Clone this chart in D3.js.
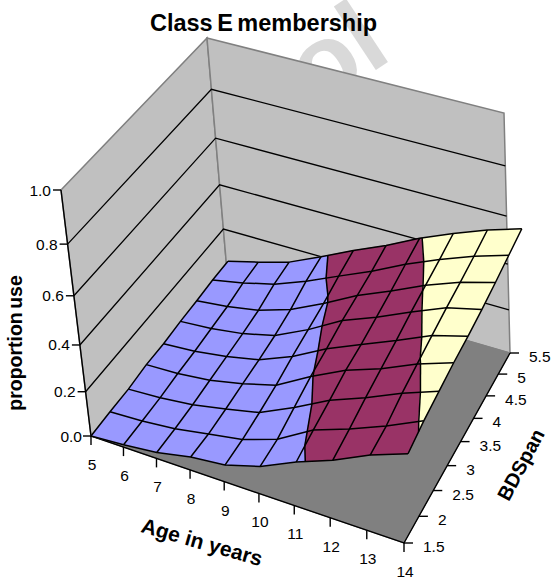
<!DOCTYPE html>
<html>
<head>
<meta charset="utf-8">
<script src="https://cdn.jsdelivr.net/npm/d3@7"></script>
<style>
  html, body { margin: 0; padding: 0; background: #fff; }
  svg { display: block; }
  text { font-family: "Liberation Sans", Arial, sans-serif; fill: #000; }
</style>
</head>
<body>
<svg id="chart" width="555" height="581"></svg>
<script>
// Axis values
const ages = [5, 6, 7, 8, 9, 10, 11, 12, 13, 14];
const spans = [1.5, 2, 2.5, 3, 3.5, 4, 4.5, 5, 5.5];
const spanLabels = ["1.5", "2", "2.5", "3", "3.5", "4", "4.5", "5", "5.5"];
const zTicks = [0, 0.2, 0.4, 0.6, 0.8, 1];
const bandLimits = [0, 0.2, 0.4, 0.6];
const bandColors = ["#9999FF", "#993366", "#FFFFCC"];

// Proportion in class E, one row per BDSpan level, ages 5 to 14
const useSpan15 = [0.000, 0.010, 0.025, 0.055, 0.070, 0.115, 0.185, 0.245, 0.320, 0.380];
const useSpan20 = [0.005, 0.012, 0.025, 0.050, 0.075, 0.125, 0.215, 0.270, 0.335, 0.410];
const useSpan25 = [0.007, 0.015, 0.030, 0.058, 0.090, 0.160, 0.240, 0.300, 0.370, 0.430];
const useSpan30 = [0.020, 0.025, 0.040, 0.070, 0.110, 0.195, 0.270, 0.325, 0.395, 0.450];
const useSpan35 = [0.020, 0.030, 0.050, 0.080, 0.140, 0.220, 0.285, 0.350, 0.420, 0.465];
const useSpan40 = [0.030, 0.040, 0.060, 0.095, 0.165, 0.250, 0.310, 0.380, 0.445, 0.485];
const useSpan45 = [0.035, 0.050, 0.075, 0.120, 0.190, 0.270, 0.335, 0.405, 0.465, 0.510];
const useSpan50 = [0.043, 0.070, 0.105, 0.160, 0.225, 0.290, 0.365, 0.430, 0.490, 0.540];
const useSpan55 = [0.045, 0.080, 0.120, 0.185, 0.255, 0.320, 0.395, 0.460, 0.520, 0.570];
const surfaceRows = [useSpan15, useSpan20, useSpan25, useSpan30, useSpan35, useSpan40, useSpan45, useSpan50, useSpan55];

const svg = d3.select("#chart");

// Camera: floor corners and the corners of the plane at height 1.0
const floorCorners = [[91, 436], [404, 543], [510, 353], [227, 271]];
const ceilingCorners = [[61, 190], [391, 290], [504, 113], [207, 38]];

function solve(A, b) {
  const n = b.length, m = A.map((r, i) => [...r, b[i]]);
  for (let i = 0; i < n; i++) {
    let q = i;
    for (let k = i + 1; k < n; k++) if (Math.abs(m[k][i]) > Math.abs(m[q][i])) q = k;
    [m[i], m[q]] = [m[q], m[i]];
    for (let k = 0; k < n; k++) {
      if (k === i) continue;
      const f = m[k][i] / m[i][i];
      for (let j = i; j <= n; j++) m[k][j] -= f * m[i][j];
    }
  }
  return m.map((r, i) => r[n] / r[i]);
}

// Plane-to-screen homography through four corners
const unitSquare = [[0, 0], [1, 0], [1, 1], [0, 1]];
function planeMap(corners) {
  const rows = [], rhs = [];
  unitSquare.forEach(([u, v], i) => {
    const [x, y] = corners[i];
    rows.push([u, v, 1, 0, 0, 0, -u * x, -v * x]); rhs.push(x);
    rows.push([0, 0, 0, u, v, 1, -u * y, -v * y]); rhs.push(y);
  });
  const h = solve(rows, rhs);
  return (u, v) => {
    const w = h[6] * u + h[7] * v + 1;
    return [(h[0] * u + h[1] * v + h[2]) / w, (h[3] * u + h[4] * v + h[5]) / w];
  };
}
const floorMap = planeMap(floorCorners);
const ceilingMap = planeMap(ceilingCorners);

const ageScale = d3.scaleLinear().domain([5, 14]).range([0, 1]);
const spanScale = d3.scaleLinear().domain([1.5, 5.5]).range([0, 1]);

// Equal height steps grow slightly toward the top of the box
const heightScale = z => z * (1 - 0.125 * (1 - z));

function project(age, span, z) {
  const u = ageScale(age), v = spanScale(span), t = heightScale(z);
  const a = floorMap(u, v), b = ceilingMap(u, v);
  return [a[0] + (b[0] - a[0]) * t, a[1] + (b[1] - a[1]) * t];
}

// The sheet rises from the floor with its own scale and a rightward lean
const sheetHeight = d3.scaleLinear().domain([1.5, 5.5]).range([235, 218]);
const sheetLean = d3.scaleLinear().domain([1.5, 5.5]).range([0.045, 0.095]);
function projectSheet(age, span, z) {
  const [x, y] = project(age, span, 0);
  const up = z * sheetHeight(span);
  return [x + sheetLean(span) * up, y - up];
}

const line = d3.line();
const closed = d3.line().curve(d3.curveLinearClosed);
const minAge = ages[0], maxAge = ages[ages.length - 1];
const minSpan = spans[0], maxSpan = spans[spans.length - 1];

// Faint diagonal stamp behind the plot
svg.append("text")
  .attr("transform", "translate(394,58) rotate(-33.5)")
  .attr("text-anchor", "end")
  .attr("font-size", 105)
  .attr("font-weight", 700)
  .style("fill", "#d9d9d9")
  .text("ol");

// Walls and floor
const wallStroke = "#808080";
const wallFill = "#C0C0C0";
svg.append("path")
  .attr("d", closed([project(minAge, minSpan, 0), project(minAge, minSpan, 1), project(minAge, maxSpan, 1), project(minAge, maxSpan, 0)]))
  .attr("fill", wallFill).attr("stroke", wallStroke).attr("stroke-width", 1.5);
svg.append("path")
  .attr("d", closed([project(minAge, maxSpan, 0), project(minAge, maxSpan, 1), project(maxAge, maxSpan, 1), project(maxAge, maxSpan, 0)]))
  .attr("fill", wallFill).attr("stroke", wallStroke).attr("stroke-width", 1.5);
svg.append("path")
  .attr("d", closed([project(minAge, minSpan, 0), project(maxAge, minSpan, 0), project(maxAge, maxSpan, 0), project(minAge, maxSpan, 0)]))
  .attr("fill", "#808080").attr("stroke", "#808080").attr("stroke-width", 1);

// Horizontal rules on both walls
const rules = svg.append("g").attr("fill", "none").attr("stroke", "#000").attr("stroke-width", 1.3);
zTicks.slice(1, -1).forEach(z => {
  rules.append("path").attr("d", line([project(minAge, minSpan, z), project(minAge, maxSpan, z), project(maxAge, maxSpan, z)]));
});

// Axis lines
const axes = svg.append("g").attr("fill", "none").attr("stroke", "#000").attr("stroke-width", 1.4);
axes.append("path").attr("d", line([project(minAge, minSpan, 1), project(minAge, minSpan, 0), project(maxAge, minSpan, 0), project(maxAge, maxSpan, 0)]));

// Height axis ticks and labels
zTicks.forEach(z => {
  const [x, y] = project(minAge, minSpan, z);
  axes.append("path").attr("d", line([[x - 8, y], [x, y]]));
  svg.append("text").attr("x", x - 10 + (z === 0 ? 1 : 0)).attr("y", y + 5.5)
    .attr("text-anchor", "end").attr("font-size", 15.5).text(z.toFixed(1));
});

// Age axis ticks and labels
ages.forEach(a => {
  const [x, y] = project(a, minSpan, 0);
  axes.append("path").attr("d", line([[x, y], [x, y + 9]]));
  svg.append("text").attr("x", x + 1).attr("y", y + 34)
    .attr("text-anchor", "middle").attr("font-size", 15.5).text(a);
});

// BDSpan axis ticks and labels
spans.forEach((s, i) => {
  const [x, y] = project(maxAge, s, 0);
  axes.append("path").attr("d", line([[x, y], [x + 9, y]]));
  svg.append("text").attr("x", x + 19).attr("y", y + 9)
    .attr("font-size", 15.5).text(spanLabels[i]);
});

// Keep the part of a cell that falls inside one colour band
function clipToBand(cell, lo, hi) {
  const clipEdge = (pts, inside, limit) => {
    const out = [];
    pts.forEach((a, i) => {
      const b = pts[(i + 1) % pts.length];
      const ai = inside(a), bi = inside(b);
      if (ai) out.push(a);
      if (ai !== bi) {
        const t = (limit - a.z) / (b.z - a.z);
        out.push({ age: a.age + t * (b.age - a.age), span: a.span + t * (b.span - a.span), z: limit });
      }
    });
    return out;
  };
  return clipEdge(clipEdge(cell, q => q.z >= lo, lo), q => q.z <= hi, hi);
}

const surfacePoint = (i, j) => ({ age: ages[j], span: spans[i], z: surfaceRows[i][j] });
const toScreen = q => projectSheet(q.age, q.span, q.z);

// Cells are painted from the back corner forward
const sheet = svg.append("g");
const bandEdges = [];
for (let i = spans.length - 2; i >= 0; i--) {
  for (let j = 0; j < ages.length - 1; j++) {
    const cell = [surfacePoint(i, j), surfacePoint(i, j + 1), surfacePoint(i + 1, j + 1), surfacePoint(i + 1, j)];
    bandColors.forEach((color, b) => {
      const part = clipToBand(cell, bandLimits[b], bandLimits[b + 1]);
      if (part.length >= 3) {
        sheet.append("path").attr("d", closed(part.map(toScreen)))
          .attr("fill", color).attr("stroke", color).attr("stroke-width", 0.6);
        part.forEach((q, k) => {
          const r = part[(k + 1) % part.length];
          if (b > 0 && q.z === bandLimits[b] && r.z === bandLimits[b]) bandEdges.push([toScreen(q), toScreen(r)]);
        });
      }
    });
  }
}

// Mesh lines and band boundaries
const mesh = svg.append("g").attr("fill", "none").attr("stroke", "#000").attr("stroke-width", 1.5).attr("stroke-linejoin", "round");
spans.forEach((s, i) => mesh.append("path").attr("d", line(ages.map((a, j) => toScreen(surfacePoint(i, j))))));
ages.forEach((a, j) => mesh.append("path").attr("d", line(spans.map((s, i) => toScreen(surfacePoint(i, j))))));
bandEdges.forEach(e => mesh.append("path").attr("d", line(e)));

// Titles
svg.append("text").attr("x", 263.5).attr("y", 31).attr("text-anchor", "middle")
  .attr("font-size", 23.5).attr("font-weight", 700).attr("word-spacing", -2).text("Class E membership");
svg.append("text").attr("transform", "translate(22,343) rotate(-90)").attr("text-anchor", "middle")
  .attr("font-size", 19.5).attr("font-weight", 700).attr("word-spacing", -2).text("proportion use");
svg.append("text").attr("transform", "translate(200,549) rotate(16)").attr("text-anchor", "middle")
  .attr("font-size", 21).attr("font-weight", 700).text("Age in years");
svg.append("text").attr("transform", "translate(527,468) rotate(-62)").attr("text-anchor", "middle")
  .attr("font-size", 20).attr("font-weight", 700).text("BDSpan");
</script>
</body>
</html>
